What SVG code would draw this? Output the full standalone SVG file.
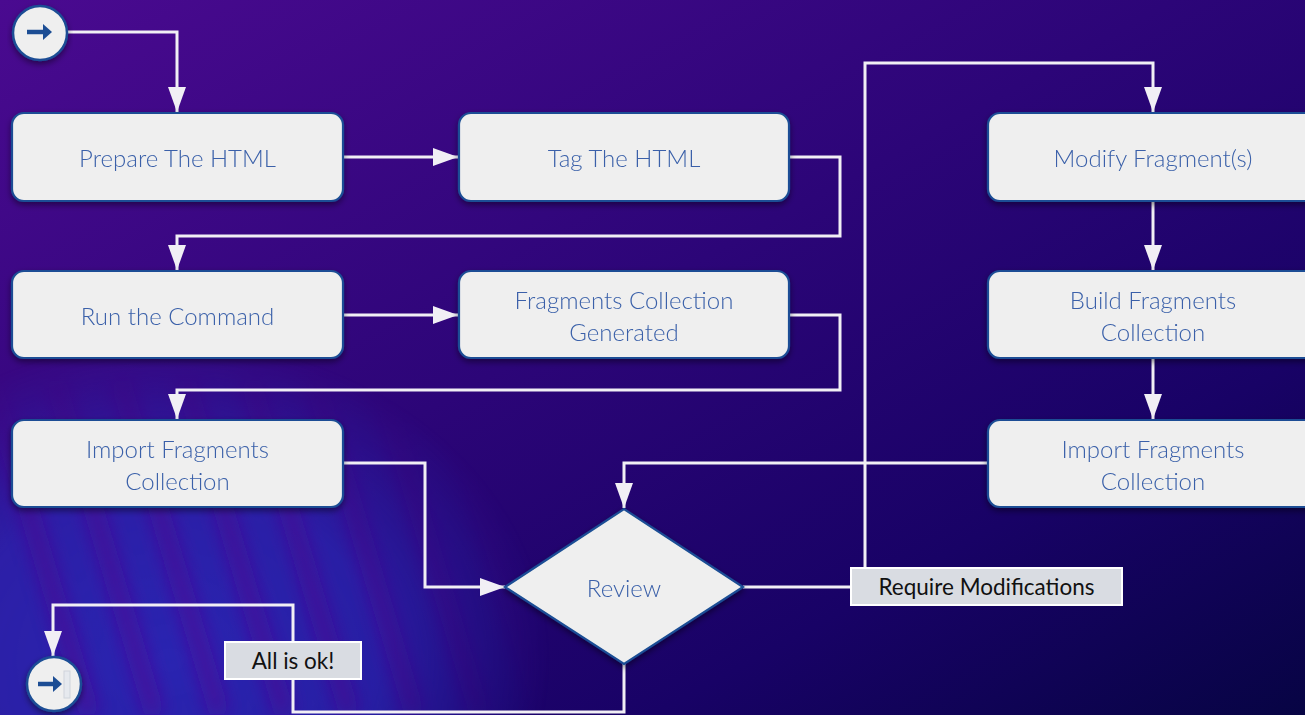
<svg xmlns="http://www.w3.org/2000/svg" width="1305" height="715" viewBox="0 0 1305 715">
  <defs>
    <linearGradient id="bg" x1="0" y1="0" x2="1" y2="1">
      <stop offset="0" stop-color="#4a0a90"/>
      <stop offset="0.45" stop-color="#2c0578"/>
      <stop offset="0.75" stop-color="#180266"/>
      <stop offset="1" stop-color="#070444"/>
    </linearGradient>
    <radialGradient id="fade" cx="0.5" cy="0.5" r="0.5">
      <stop offset="0" stop-color="#ffffff" stop-opacity="1"/>
      <stop offset="0.55" stop-color="#ffffff" stop-opacity="0.8"/>
      <stop offset="1" stop-color="#ffffff" stop-opacity="0"/>
    </radialGradient>
    <mask id="streakmask" maskUnits="userSpaceOnUse" x="0" y="0" width="1305" height="715">
      <ellipse cx="170" cy="660" rx="380" ry="320" fill="url(#fade)"/>
    </mask>
    <filter id="blur10" x="-30%" y="-30%" width="160%" height="160%">
      <feGaussianBlur stdDeviation="9"/>
    </filter>
    <filter id="shadow" x="-10%" y="-20%" width="120%" height="150%">
      <feDropShadow dx="0" dy="3" stdDeviation="3" flood-color="#000010" flood-opacity="0.45"/>
    </filter>
    <marker id="arrow" markerUnits="userSpaceOnUse" markerWidth="26" markerHeight="20" refX="25" refY="9" orient="auto">
      <polygon points="0,0 25,9 0,18" fill="#f1eff5"/>
    </marker>
  </defs>
  <style>
    .box { fill: #efefef; stroke: #1b4e95; stroke-width: 2.2; }
    .txt { font-family: Lato, "Source Sans Pro", "Noto Sans", sans-serif; font-weight: 300; font-size: 24px; fill: #3a60a9; text-anchor: middle; dominant-baseline: central; }
    .conn { fill: none; stroke: #f1eff5; stroke-width: 3; }
    .lbl { fill: #d9dce2; stroke: #ffffff; stroke-width: 2; }
    .lbltxt { font-family: Lato, "Source Sans Pro", "Noto Sans", sans-serif; font-size: 22.5px; fill: #111111; text-anchor: middle; dominant-baseline: central; }
  </style>

  <!-- background -->
  <rect x="0" y="0" width="1305" height="715" fill="url(#bg)"/>
  <g mask="url(#streakmask)">
    <rect x="0" y="300" width="560" height="415" fill="#2b2cbc" opacity="0.85"/>
    <g filter="url(#blur10)" stroke="#4a0c9c" stroke-width="20" fill="none" opacity="0.8">
      <path d="M-10,380 L90,715"/>
      <path d="M55,380 L155,715"/>
      <path d="M120,380 L220,715"/>
      <path d="M185,380 L285,715"/>
      <path d="M250,380 L350,715"/>
      <path d="M315,380 L415,715"/>
      <path d="M380,380 L480,715"/>
      <path d="M445,380 L545,715"/>
    </g>
  </g>

  <!-- connectors -->
  <g id="connectors">
    <path class="conn" d="M67,32 H177 V112" marker-end="url(#arrow)"/>
    <path class="conn" d="M343,157 H458" marker-end="url(#arrow)"/>
    <path class="conn" d="M789,157 H840 V236 H177 V270" marker-end="url(#arrow)"/>
    <path class="conn" d="M343,315 H458" marker-end="url(#arrow)"/>
    <path class="conn" d="M789,315 H840 V390 H177 V419" marker-end="url(#arrow)"/>
    <path class="conn" d="M343,463 H425 V587 H505" marker-end="url(#arrow)"/>
    <path class="conn" d="M743,587 H865 V63 H1153 V112" marker-end="url(#arrow)"/>
    <path class="conn" d="M1153,201 V270" marker-end="url(#arrow)"/>
    <path class="conn" d="M1153,358 V419" marker-end="url(#arrow)"/>
    <path class="conn" d="M988,463 H624 V508" marker-end="url(#arrow)"/>
    <path class="conn" d="M624,664 V712 H293 V605 H53 V656" marker-end="url(#arrow)"/>
    <g id="label-require">
      <rect class="lbl" x="851" y="568" width="271" height="37"/>
      <text class="lbltxt" x="986.5" y="586.5">Require Modifications</text>
    </g>
    <g id="label-ok">
      <rect class="lbl" x="225" y="642" width="136" height="37"/>
      <text class="lbltxt" x="293" y="660.5">All is ok!</text>
    </g>
  </g>

  <!-- nodes -->
  <g id="start" filter="url(#shadow)">
    <circle cx="40" cy="33" r="27" fill="#efefef" stroke="#1b4e95" stroke-width="2.5"/>
    <path d="M27,32 H45" stroke="#1d4e94" stroke-width="4.5" fill="none"/>
    <polygon points="43,24 52,32 43,40" fill="#1d4e94"/>
  </g>

  <g id="prepare" filter="url(#shadow)">
    <rect class="box" x="12" y="113" width="331" height="88" rx="12"/>
    <text class="txt" x="177.5" y="157">Prepare The HTML</text>
  </g>
  <g id="tag" filter="url(#shadow)">
    <rect class="box" x="459" y="113" width="330" height="88" rx="12"/>
    <text class="txt" x="624" y="157">Tag The HTML</text>
  </g>
  <g id="run" filter="url(#shadow)">
    <rect class="box" x="12" y="271" width="331" height="87" rx="12"/>
    <text class="txt" x="177.5" y="315">Run the Command</text>
  </g>
  <g id="generated" filter="url(#shadow)">
    <rect class="box" x="459" y="271" width="330" height="87" rx="12"/>
    <text class="txt" x="624" y="299">Fragments Collection</text>
    <text class="txt" x="624" y="331">Generated</text>
  </g>
  <g id="import1" filter="url(#shadow)">
    <rect class="box" x="12" y="420" width="331" height="87" rx="12"/>
    <text class="txt" x="177.5" y="448">Import Fragments</text>
    <text class="txt" x="177.5" y="480">Collection</text>
  </g>
  <g id="modify" filter="url(#shadow)">
    <rect class="box" x="988" y="113" width="330" height="88" rx="12"/>
    <text class="txt" x="1153" y="157">Modify Fragment(s)</text>
  </g>
  <g id="build" filter="url(#shadow)">
    <rect class="box" x="988" y="271" width="330" height="87" rx="12"/>
    <text class="txt" x="1153" y="299">Build Fragments</text>
    <text class="txt" x="1153" y="331">Collection</text>
  </g>
  <g id="import2" filter="url(#shadow)">
    <rect class="box" x="988" y="420" width="330" height="87" rx="12"/>
    <text class="txt" x="1153" y="448">Import Fragments</text>
    <text class="txt" x="1153" y="480">Collection</text>
  </g>
  <g id="review" filter="url(#shadow)">
    <polygon class="box" points="505,587 624,509 743,587 624,664"/>
    <text class="txt" x="624" y="587">Review</text>
  </g>

  <g id="end" filter="url(#shadow)">
    <circle cx="54" cy="684" r="27" fill="#efefef" stroke="#1b4e95" stroke-width="2.5"/>
    <rect x="64" y="671" width="6" height="27" fill="#e6e9ee" stroke="#cfd4dc" stroke-width="1"/>
    <path d="M38,684 H55" stroke="#1d4e94" stroke-width="4.5" fill="none"/>
    <polygon points="53,676 62,684 53,692" fill="#1d4e94"/>
  </g>
</svg>
